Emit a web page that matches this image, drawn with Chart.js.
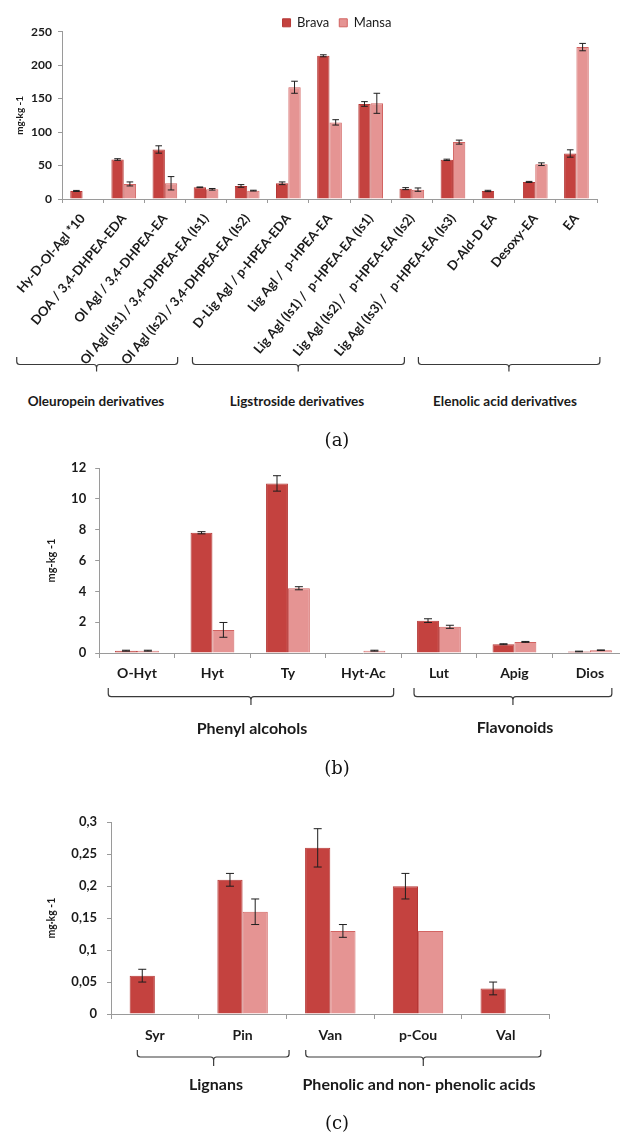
<!DOCTYPE html>
<html>
<head>
<meta charset="utf-8">
<script src="https://cdn.jsdelivr.net/npm/chart.js@4.4.1/dist/chart.umd.min.js"></script>
<style>
  html, body { margin: 0; padding: 0; background: #fff; overflow: hidden; }
  body { width: 620px; height: 1133px; position: relative; }
  .wrap { position: absolute; left: 0; }
  .grp { position: absolute; transform: translate(-50%, -50%); font-family: Lato, sans-serif; font-weight: bold; color: #1a1a1a; white-space: nowrap; }
  .pl { position: absolute; transform: translate(-50%, -50%); font-family: "DejaVu Serif", serif; font-size: 18px; color: #111; white-space: nowrap; }
</style>
</head>
<body>
<div class="wrap" style="top:0; width:674px; height:380px;"><canvas id="chartA"></canvas></div>
<div class="wrap" style="top:440px; width:640px; height:300px;"><canvas id="chartB"></canvas></div>
<div class="wrap" style="top:790px; width:620px; height:300px;"><canvas id="chartC"></canvas></div>

<div class="grp" style="left:96px; top:401px; font-size:13.5px;">Oleuropein derivatives</div>
<div class="grp" style="left:297px; top:401px; font-size:13.5px;">Ligstroside derivatives</div>
<div class="grp" style="left:505px; top:401px; font-size:13.5px;">Elenolic acid derivatives</div>
<div class="pl" style="left:337px; top:439px;">(a)</div>

<div class="grp" style="left:252px; top:727px; font-size:16px;">Phenyl alcohols</div>
<div class="grp" style="left:515px; top:726px; font-size:16px;">Flavonoids</div>
<div class="pl" style="left:337px; top:767px;">(b)</div>

<div class="grp" style="left:216px; top:1083px; font-size:16px;">Lignans</div>
<div class="grp" style="left:419px; top:1083px; font-size:16px;">Phenolic and non- phenolic acids</div>
<div class="pl" style="left:337px; top:1122px;">(c)</div>

<script>
// ---------- DATA ----------
const seriesNames = ['Brava', 'Mansa'];

// Panel (a)
const categoriesA = ['Hy-D-Ol-Agl *10', 'DOA / 3,4-DHPEA-EDA', 'Ol Agl / 3,4-DHPEA-EA',
  'Ol Agl (Is1) / 3,4-DHPEA-EA (Is1)', 'Ol Agl (Is2) / 3,4-DHPEA-EA (Is2)', 'D-Lig Agl / p-HPEA-EDA',
  'Lig Agl /  p-HPEA-EA', 'Lig Agl (Is1) /  p-HPEA-EA (Is1)', 'Lig Agl (Is2) /   p-HPEA-EA (Is2)',
  'Lig Agl (Is3) /   p-HPEA-EA (Is3)', 'D-Ald-D EA', 'Desoxy-EA', 'EA'];
const bravaA = [12, 59, 74, 17.5, 19.5, 23.5, 214, 142, 15.5, 58.5, 12, 25.5, 68];
const mansaA = [null, 22.5, 23.5, 14.5, 12.5, 167, 114.5, 143, 14, 85, null, 52, 227];
const bravaErrA = [0.8, 1.2, 5.5, 0.5, 2, 2, 1.5, 3.5, 1.5, 1, 1, 0.8, 5.5];
const mansaErrA = [null, 3, 10, 1.2, 0.6, 9, 4, 15, 2.5, 3, null, 2, 5.5];
const groupsA = ['Oleuropein derivatives', 'Ligstroside derivatives', 'Elenolic acid derivatives'];

// Panel (b)
const categoriesB = ['O-Hyt', 'Hyt', 'Ty', 'Hyt-Ac', 'Lut', 'Apig', 'Dios'];
const bravaB = [0.15, 7.8, 11.0, null, 2.1, 0.57, 0.1];
const mansaB = [0.15, 1.5, 4.2, 0.15, 1.7, 0.72, 0.18];
const bravaErrB = [0.03, 0.07, 0.5, null, 0.12, 0.03, 0.02];
const mansaErrB = [0.03, 0.48, 0.1, 0.03, 0.1, 0.03, 0.02];
const groupsB = ['Phenyl alcohols', 'Flavonoids'];

// Panel (c)
const categoriesC = ['Syr', 'Pin', 'Van', 'p-Cou', 'Val'];
const bravaC = [0.06, 0.21, 0.26, 0.20, 0.04];
const mansaC = [null, 0.16, 0.13, 0.13, null];
const bravaErrC = [0.01, 0.01, 0.03, 0.02, 0.01];
const mansaErrC = [null, 0.02, 0.01, null, null];
const tickLabelsC = ['0', '0,05', '0,1', '0,15', '0,2', '0,25', '0,3'];
const groupsC = ['Lignans', 'Phenolic and non- phenolic acids'];

// Bracket spans in category-index units: [from, to, middle]
const bracketsA = [[-1.6, 2.31, 0.34], [2.67, 7.82, 5.24], [8.16, 12.57, 10.36]];
const bracketsB = [[-0.38, 3.4, 1.51], [3.67, 6.29, 4.98]];
const bracketsC = [[-0.2, 1.53, 0.67], [1.72, 4.4, 3.06]];

// ---------- STYLE ----------
const BRAVA_BG = '#c4423f', BRAVA_BD = '#b53836';
const MANSA_BG = '#e59493', MANSA_BD = '#d26462';
const AXIS = '#9a9a9a';
const TXT = '#1a1a1a';
const FONT = 'Lato';

const errorBarPlugin = {
  id: 'errorBars',
  afterDatasetsDraw(chart, args, opts) {
    const ctx = chart.ctx, y = chart.scales.y, cap = opts.cap || 3.5;
    ctx.save();
    ctx.strokeStyle = '#1e1e1e';
    ctx.lineWidth = 1;
    chart.data.datasets.forEach((ds, i) => {
      const meta = chart.getDatasetMeta(i);
      (ds.errors || []).forEach((e, j) => {
        const v = ds.data[j];
        if (v == null || e == null) return;
        const x = meta.data[j].x;
        const yt = y.getPixelForValue(v + e), yb = y.getPixelForValue(Math.max(v - e, 0));
        ctx.beginPath();
        ctx.moveTo(x, yt); ctx.lineTo(x, yb);
        ctx.moveTo(x - cap, yt); ctx.lineTo(x + cap, yt);
        ctx.moveTo(x - cap, yb); ctx.lineTo(x + cap, yb);
        ctx.stroke();
      });
    });
    ctx.restore();
  }
};

const bracketPlugin = {
  id: 'brackets',
  afterDraw(chart, args, opts) {
    if (!opts.spans) return;
    const xs = chart.scales.x, base = chart.chartArea.bottom, ctx = chart.ctx;
    ctx.save();
    ctx.strokeStyle = '#3a3a3a';
    ctx.lineWidth = 1.2;
    const top = base + opts.top, line = base + opts.line, tip = base + opts.tip, r = 3;
    opts.spans.forEach(([a, b, m]) => {
      const x1 = xs.getPixelForValue(a), x2 = xs.getPixelForValue(b), xm = xs.getPixelForValue(m);
      ctx.beginPath();
      ctx.moveTo(x1, top); ctx.lineTo(x1, line - r);
      ctx.quadraticCurveTo(x1, line, x1 + r, line);
      ctx.lineTo(xm - r, line);
      ctx.quadraticCurveTo(xm, line, xm, line + r);
      ctx.lineTo(xm, tip);
      ctx.moveTo(xm, line + r);
      ctx.quadraticCurveTo(xm, line, xm + r, line);
      ctx.lineTo(x2 - r, line);
      ctx.quadraticCurveTo(x2, line, x2, line - r);
      ctx.lineTo(x2, top);
      ctx.stroke();
    });
    ctx.restore();
  }
};

function datasets(brava, mansa, bErr, mErr, catPct) {
  return [
    { label: seriesNames[0], data: brava, errors: bErr, backgroundColor: BRAVA_BG, borderColor: BRAVA_BD,
      borderWidth: 1, categoryPercentage: catPct, barPercentage: 1.0 },
    { label: seriesNames[1], data: mansa, errors: mErr, backgroundColor: MANSA_BG, borderColor: MANSA_BD,
      borderWidth: 1, categoryPercentage: catPct, barPercentage: 1.0 }
  ];
}

function xScale(o) {
  return {
    grid: { display: true, offset: true, drawOnChartArea: false, drawTicks: true, tickLength: o.tl, color: AXIS },
    border: { display: true, color: AXIS, width: 1 },
    ticks: { autoSkip: false, minRotation: o.rot, maxRotation: o.rot, padding: o.pad,
      font: { family: FONT, size: o.fs, weight: 'bold' }, color: TXT },
    afterFit: s => { s.height = o.h; s.paddingLeft = 0; s.paddingRight = 0; }
  };
}

function yScale(o) {
  return {
    min: 0, max: o.max,
    grid: { display: true, drawOnChartArea: false, drawTicks: true, tickLength: 4, color: AXIS },
    border: { display: true, color: AXIS, width: 1 },
    ticks: { stepSize: o.step, padding: o.pad, font: { family: FONT, size: o.fs, weight: 'bold' }, color: TXT,
      callback: o.cb },
    title: { display: true, text: o.title, color: TXT, font: { family: FONT, size: o.tfs, weight: 'bold' },
      padding: { top: o.tpad, bottom: 0 } },
    afterFit: s => { s.width = o.w; s.paddingTop = 0; s.paddingBottom = 0; }
  };
}

Chart.defaults.font.family = FONT;

// Panel (a)
new Chart(document.getElementById('chartA'), {
  type: 'bar',
  data: { labels: categoriesA, datasets: datasets(bravaA, mansaA, bravaErrA, mansaErrA, 0.6) },
  options: {
    responsive: true, maintainAspectRatio: false, animation: false,
    layout: { padding: { top: 6.3, left: 0, right: 0, bottom: 16 } },
    scales: {
      x: xScale({ tl: 4, rot: 50, pad: 8, fs: 13, h: 165 }),
      y: yScale({ max: 250, step: 50, pad: 6, fs: 12, title: 'mg·kg -1', tfs: 10, tpad: 14, w: 62 }),
      yRight: { position: 'right', display: true, grid: { display: false }, border: { display: false },
        ticks: { display: false }, afterFit: s => { s.width = 77; } }
    },
    plugins: {
      legend: { display: true, position: 'top', maxHeight: 25.4,
        labels: { boxWidth: 8, boxHeight: 8, padding: 10, color: TXT, font: { family: FONT, size: 13 } } },
      tooltip: { enabled: false },
      errorBars: { cap: 3.3 },
      brackets: { spans: bracketsA, top: 158, line: 165.5, tip: 172.5 }
    }
  },
  plugins: [errorBarPlugin, bracketPlugin]
});

// Panel (b)
new Chart(document.getElementById('chartB'), {
  type: 'bar',
  data: { labels: categoriesB, datasets: datasets(bravaB, mansaB, bravaErrB, mansaErrB, 0.58) },
  options: {
    responsive: true, maintainAspectRatio: false, animation: false,
    layout: { padding: { top: 28, left: 0, right: 12.3, bottom: 47 } },
    scales: {
      x: xScale({ tl: 5, rot: 0, pad: 7, fs: 14, h: 40 }),
      y: yScale({ max: 12, step: 2, pad: 9, fs: 13, title: 'mg-kg -1', tfs: 11, tpad: 45, w: 99.2 })
    },
    plugins: {
      legend: { display: false },
      tooltip: { enabled: false },
      errorBars: { cap: 4 },
      brackets: { spans: bracketsB, top: 35, line: 43.7, tip: 52 }
    }
  },
  plugins: [errorBarPlugin, bracketPlugin]
});

// Panel (c)
new Chart(document.getElementById('chartC'), {
  type: 'bar',
  data: { labels: categoriesC, datasets: datasets(bravaC, mansaC, bravaErrC, mansaErrC, 0.575) },
  options: {
    responsive: true, maintainAspectRatio: false, animation: false,
    layout: { padding: { top: 32.3, left: 0, right: 70.4, bottom: 36 } },
    scales: {
      x: xScale({ tl: 5, rot: 0, pad: 8, fs: 14, h: 40 }),
      y: yScale({ max: 0.3, step: 0.05, pad: 10, fs: 13, title: 'mg·kg -1', tfs: 10.5, tpad: 45, w: 111,
        cb: v => tickLabelsC[Math.round(v / 0.05)] })
    },
    plugins: {
      legend: { display: false },
      tooltip: { enabled: false },
      errorBars: { cap: 4 },
      brackets: { spans: bracketsC, top: 36, line: 43, tip: 52 }
    }
  },
  plugins: [errorBarPlugin, bracketPlugin]
});
</script>
</body>
</html>
